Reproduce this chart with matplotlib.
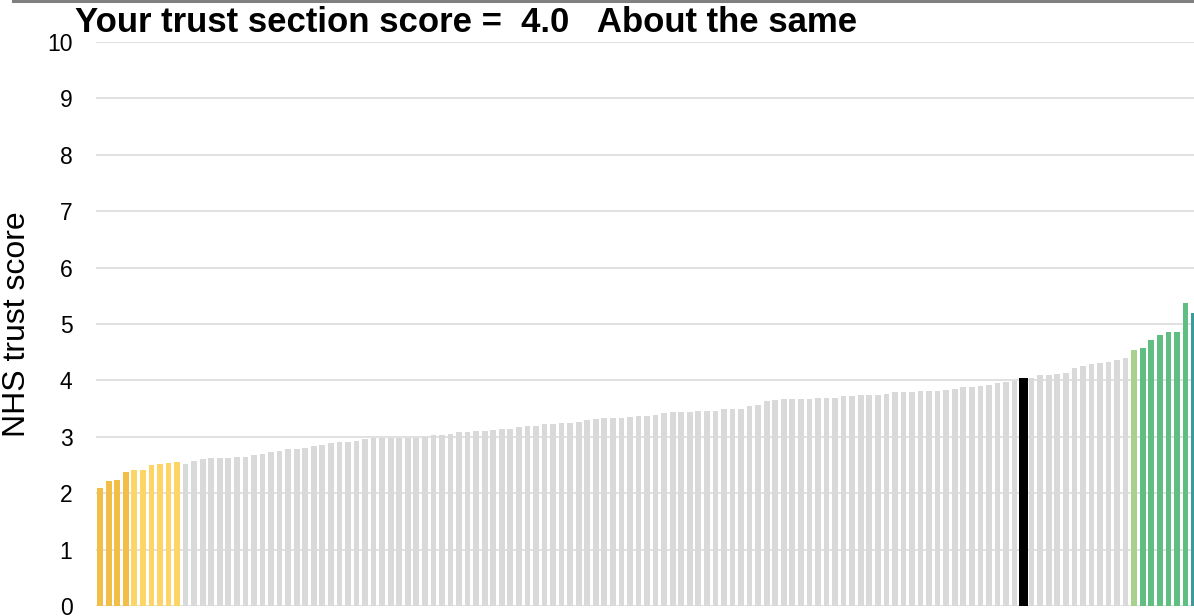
import numpy as np
import matplotlib
matplotlib.use("Agg")
import matplotlib.pyplot as plt
from matplotlib.lines import Line2D

plt.rcParams['font.family'] = ['Liberation Sans', 'DejaVu Sans']

# NHS trust section scores, sorted low to high
scores = [2.10, 2.21, 2.24, 2.37, 2.41, 2.42, 2.50, 2.51, 2.53, 2.56,
          2.51, 2.57, 2.60, 2.62, 2.62, 2.63, 2.64, 2.65, 2.67, 2.70,
          2.73, 2.74, 2.78, 2.79, 2.81, 2.84, 2.85, 2.89, 2.91, 2.90,
          2.92, 2.96, 2.97, 2.97, 2.97, 2.98, 2.98, 2.98, 3.00, 3.035,
          3.04, 3.05, 3.08, 3.08, 3.10, 3.11, 3.12, 3.13, 3.135, 3.17,
          3.19, 3.20, 3.22, 3.22, 3.24, 3.25, 3.265, 3.295, 3.32, 3.325,
          3.34, 3.34, 3.35, 3.36, 3.37, 3.395, 3.43, 3.44, 3.445, 3.445,
          3.45, 3.45, 3.46, 3.49, 3.49, 3.50, 3.55, 3.56, 3.63, 3.65,
          3.67, 3.67, 3.675, 3.675, 3.68, 3.68, 3.69, 3.72, 3.73, 3.735,
          3.74, 3.745, 3.765, 3.79, 3.79, 3.80, 3.82, 3.82, 3.82, 3.835,
          3.84, 3.88, 3.89, 3.895, 3.92, 3.95, 3.98, 3.99, 4.05, 4.04,
          4.10, 4.10, 4.12, 4.13, 4.22, 4.25, 4.29, 4.31, 4.33, 4.36,
          4.39, 4.54, 4.58, 4.71, 4.81, 4.86, 4.86, 5.38, 5.20]

your_trust = 108
your_score = 4.0
verdict = "About the same"

# colour bands (index ranges)
worst_idx = range(0, 4)
low_idx = range(4, 10)
high_idx = [121]
better_idx = range(122, 128)
best_idx = [128]

colors = ['#D9D9D9'] * len(scores)
for i in worst_idx:
    colors[i] = '#F1BE48'
for i in low_idx:
    colors[i] = '#FDD566'
for i in high_idx:
    colors[i] = '#A9D18E'
for i in better_idx:
    colors[i] = '#61BE82'
for i in best_idx:
    colors[i] = '#3C9A99'
colors[your_trust] = '#000000'

widths = [0.667] * len(scores)
widths[your_trust] = 1.05

x = np.arange(len(scores))

fig = plt.figure(figsize=(11.94, 6.16), dpi=100)
ax = fig.add_axes([96/1194, 10/616, 1098/1194, 564/616])

ax.bar(x, scores, width=widths, color=colors, zorder=2)

ax.set_ylim(0, 10)
ax.set_xlim(-0.485, 128.0)
ax.set_yticks(range(0, 11))
ax.yaxis.grid(True, color='#D9D9D9', linewidth=1.1, zorder=0)
ax.set_axisbelow(True)
ax.set_xticks([])
ax.tick_params(axis='y', length=0, pad=17, labelsize=16.5)
for s in ax.spines.values():
    s.set_visible(False)

fig.text(17/1194, 1 - 324/616, "NHS trust score", rotation=90,
         fontsize=23, ha='center', va='center')

fig.text(75/1194, 1 - 32/616,
         f"Your trust section score =  {your_score:.1f}   {verdict}",
         fontsize=25, fontweight='bold', ha='left', va='baseline')

fig.add_artist(Line2D([13/1194, 1], [1 - 1.3/616, 1 - 1.3/616],
                      color='#808080', linewidth=2.2))

fig.savefig("out.png", dpi=100)
